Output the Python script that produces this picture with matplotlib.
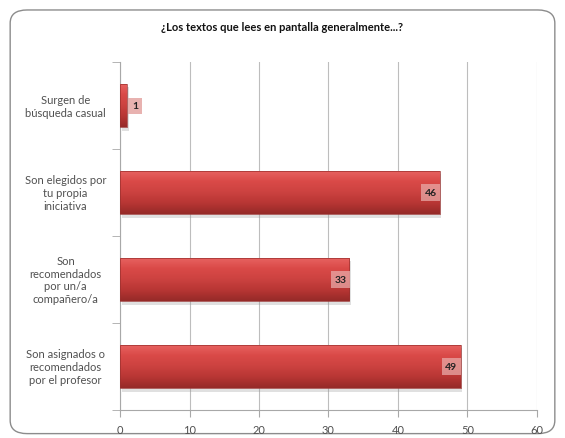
import numpy as np
import matplotlib.pyplot as plt
from matplotlib.patches import FancyBboxPatch
from matplotlib.colors import LinearSegmentedColormap
from matplotlib.transforms import blended_transform_factory

plt.rcParams['font.family'] = ['Lato', 'DejaVu Sans']

# Respuestas de la encuesta (de arriba hacia abajo)
categorias = [
    'Surgen de\nbúsqueda casual',
    'Son elegidos por\ntu propia\niniciativa',
    'Son\nrecomendados\npor un/a\ncompañero/a',
    'Son asignados o\nrecomendados\npor el profesor',
]
valores = [1, 46, 33, 49]
titulo = '¿Los textos que lees en pantalla generalmente...?'
xticks = [0, 10, 20, 30, 40, 50, 60]

fig = plt.figure(figsize=(5.65, 4.39), dpi=100)
fig.patch.set_facecolor('white')

# marco redondeado alrededor del gráfico
marco = FancyBboxPatch((0.018, 0.01), 0.964, 0.965,
                       boxstyle='round,pad=0,rounding_size=0.03',
                       transform=fig.transFigure, facecolor='white',
                       edgecolor='#8c8c8c', linewidth=1.0, zorder=-5)
fig.patches.append(marco)

ax = fig.add_axes([0.2124, 0.064, 0.738, 0.792])
ax.patch.set_alpha(0)

# gradiente vertical para las barras
grad = np.linspace(0, 1, 64).reshape(-1, 1)
cmap = LinearSegmentedColormap.from_list('rojo', ['#e86462', '#da4a48', '#cc4240', '#b83634', '#962a28'])

alto = 0.5
for i, v in enumerate(valores):
    # sombra
    ax.barh(i + 0.04, v, height=alto, left=0.25, color='#9a9a9a', alpha=0.3, zorder=2)
    b = ax.barh(i, v, height=alto, color='none', edgecolor='#9a302e', linewidth=0.5, zorder=4)[0]
    img = ax.imshow(grad, extent=(0, v, i + alto / 2, i - alto / 2), aspect='auto',
                    cmap=cmap, zorder=3, interpolation='bilinear')
    img.set_clip_path(b)
    # etiqueta de valor
    if v < 5:
        ax.text(v + 0.7, i, str(v), ha='left', va='center', fontsize=7.5, fontweight='bold',
                color='#222222', zorder=5,
                bbox=dict(boxstyle='square,pad=0.35', facecolor='#e6aaa8', edgecolor='none', alpha=0.9))
    else:
        ax.text(v - 0.45, i, str(v), ha='right', va='center', fontsize=7.5, fontweight='bold',
                color='#222222', zorder=5,
                bbox=dict(boxstyle='square,pad=0.35', facecolor='#eab0ae', edgecolor='none', alpha=0.7))

ax.set_xlim(0, 60)
ax.set_ylim(len(valores) - 0.5, -0.5)
ax.set_xticks(xticks)
ax.set_xticklabels([str(t) for t in xticks], fontsize=8, color='#505050')

# categorías: cada línea centrada por separado a la izquierda del eje
ax.set_yticks(range(len(categorias)))
ax.set_yticklabels([])
trans = blended_transform_factory(fig.transFigure, ax.transData)
paso = 9.3  # separación entre líneas, en puntos
for i, cat in enumerate(categorias):
    lineas = cat.split('\n')
    n = len(lineas)
    for k, linea in enumerate(lineas):
        ax.annotate(linea, xy=(0.116, i), xycoords=trans,
                    xytext=(0, ((n - 1) / 2 - k) * paso), textcoords='offset points',
                    ha='center', va='center', fontsize=8, color='#505050',
                    annotation_clip=False)

ax.set_yticks(np.arange(-0.5, len(categorias)), minor=True)
ax.tick_params(axis='y', which='major', length=0)
ax.tick_params(axis='y', which='minor', length=6, color='#a8a8a8', direction='out')
ax.tick_params(axis='x', length=5, color='#a8a8a8', direction='out', pad=5)

ax.grid(axis='x', color='#bdbdbd', linewidth=0.8, zorder=0)
ax.set_axisbelow(True)
for s in ['top', 'right']:
    ax.spines[s].set_visible(False)
for s in ['left', 'bottom']:
    ax.spines[s].set_color('#a8a8a8')

fig.text(0.5, 0.937, titulo, ha='center', va='center', fontsize=8, fontweight='bold', color='#111111')

fig.savefig('out.png', dpi=100)
